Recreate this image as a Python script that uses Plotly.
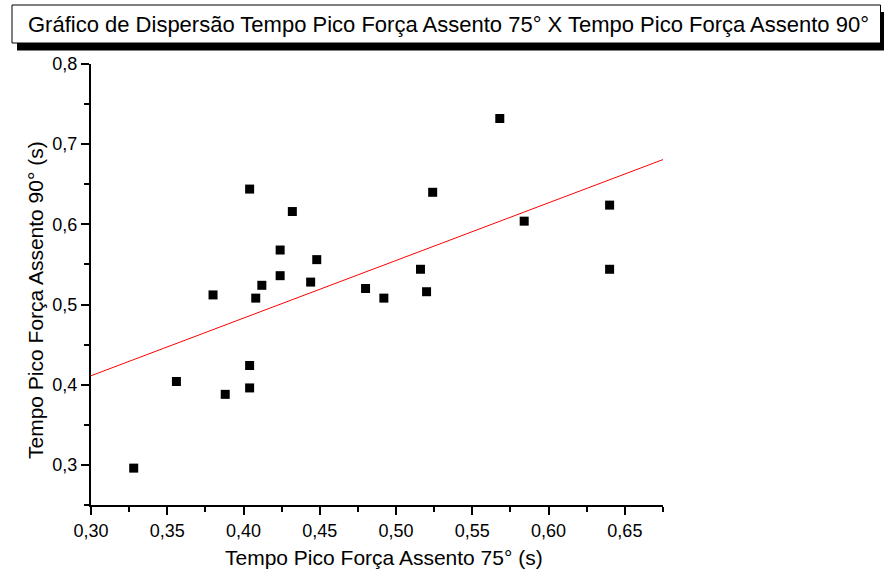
import numpy as np
import plotly.graph_objects as go

# Data (seconds)
x_75 = [0.328, 0.356, 0.380, 0.388, 0.404, 0.404, 0.404, 0.408, 0.412, 0.424, 0.424,
        0.432, 0.444, 0.448, 0.480, 0.492, 0.516, 0.520, 0.524, 0.568, 0.584, 0.640, 0.640]
y_90 = [0.296, 0.404, 0.512, 0.388, 0.644, 0.424, 0.396, 0.508, 0.524, 0.568, 0.536,
        0.616, 0.528, 0.556, 0.520, 0.508, 0.544, 0.516, 0.640, 0.732, 0.604, 0.624, 0.544]

x_range = [0.30, 0.675]
y_range = [0.25, 0.80]

title_text = "Gráfico de Dispersão Tempo Pico Força Assento 75° X Tempo Pico Força Assento 90°"
x_title = "Tempo Pico Força Assento 75° (s)"
y_title = "Tempo Pico Força Assento 90° (s)"

# Linear fit
slope, intercept = np.polyfit(x_75, y_90, 1)
fit_x = np.array(x_range)
fit_y = intercept + slope * fit_x

FONT = "Liberation Sans, Arial, sans-serif"
W, H = 884, 574
L, R, T, B = 91, 663, 64, 505


def px2x(px):
    return (px - L) / (R - L)


def py2y(py):
    return (B - py) / (B - T)


fig = go.Figure()
fig.add_trace(go.Scatter(x=fit_x, y=fit_y, mode="lines",
                         line=dict(color="#ff0000", width=1), showlegend=False,
                         cliponaxis=True))
fig.add_trace(go.Scatter(x=x_75, y=y_90, mode="markers",
                         marker=dict(symbol="square", size=9, color="black",
                                     line=dict(width=0)),
                         showlegend=False))

axis_common = dict(showline=True, linecolor="black", linewidth=2, mirror=False,
                   ticks="outside", ticklen=8, tickwidth=2, tickcolor="black",
                   showgrid=False, zeroline=False,
                   tickfont=dict(family=FONT, size=18, color="black"))

fig.update_xaxes(range=x_range, tick0=0.30, dtick=0.05, tickformat=".2f",
                 minor=dict(ticks="outside", ticklen=5, tickwidth=2, tickcolor="black",
                            dtick=0.025, showgrid=False),
                 **axis_common)
fig.update_yaxes(range=y_range, tick0=0.30, dtick=0.1, tickformat=".1f",
                 minor=dict(ticks="outside", ticklen=5, tickwidth=2, tickcolor="black",
                            dtick=0.05, showgrid=False),
                 **axis_common)

shapes = [
    # shadow
    dict(type="rect", xref="paper", yref="paper",
         x0=px2x(17), x1=px2x(890), y0=py2y(50.5), y1=py2y(12),
         fillcolor="black", line=dict(width=0), layer="above"),
    # box
    dict(type="rect", xref="paper", yref="paper",
         x0=px2x(12), x1=px2x(880.5), y0=py2y(43), y1=py2y(5),
         fillcolor="white", line=dict(color="black", width=1), layer="above"),
]

fig.update_layout(
    width=W, height=H, autosize=False,
    margin=dict(l=L, r=W - R, t=T, b=H - B),
    paper_bgcolor="white", plot_bgcolor="white",
    separators=",.",
    font=dict(family=FONT, color="black"),
    shapes=shapes,
    annotations=[
        dict(text=title_text, xref="paper", yref="paper",
             x=px2x(448), y=py2y(24.5), xanchor="center", yanchor="middle",
             showarrow=False, font=dict(family=FONT, size=22, color="black")),
        dict(text=x_title, xref="paper", yref="paper",
             x=px2x(384), y=py2y(557), xanchor="center", yanchor="middle",
             showarrow=False, font=dict(family=FONT, size=21, color="black")),
        dict(text=y_title, xref="paper", yref="paper", textangle=-90,
             x=px2x(35), y=py2y(300), xanchor="center", yanchor="middle",
             showarrow=False, font=dict(family=FONT, size=21, color="black")),
    ],
)

fig.write_html("out.html")
